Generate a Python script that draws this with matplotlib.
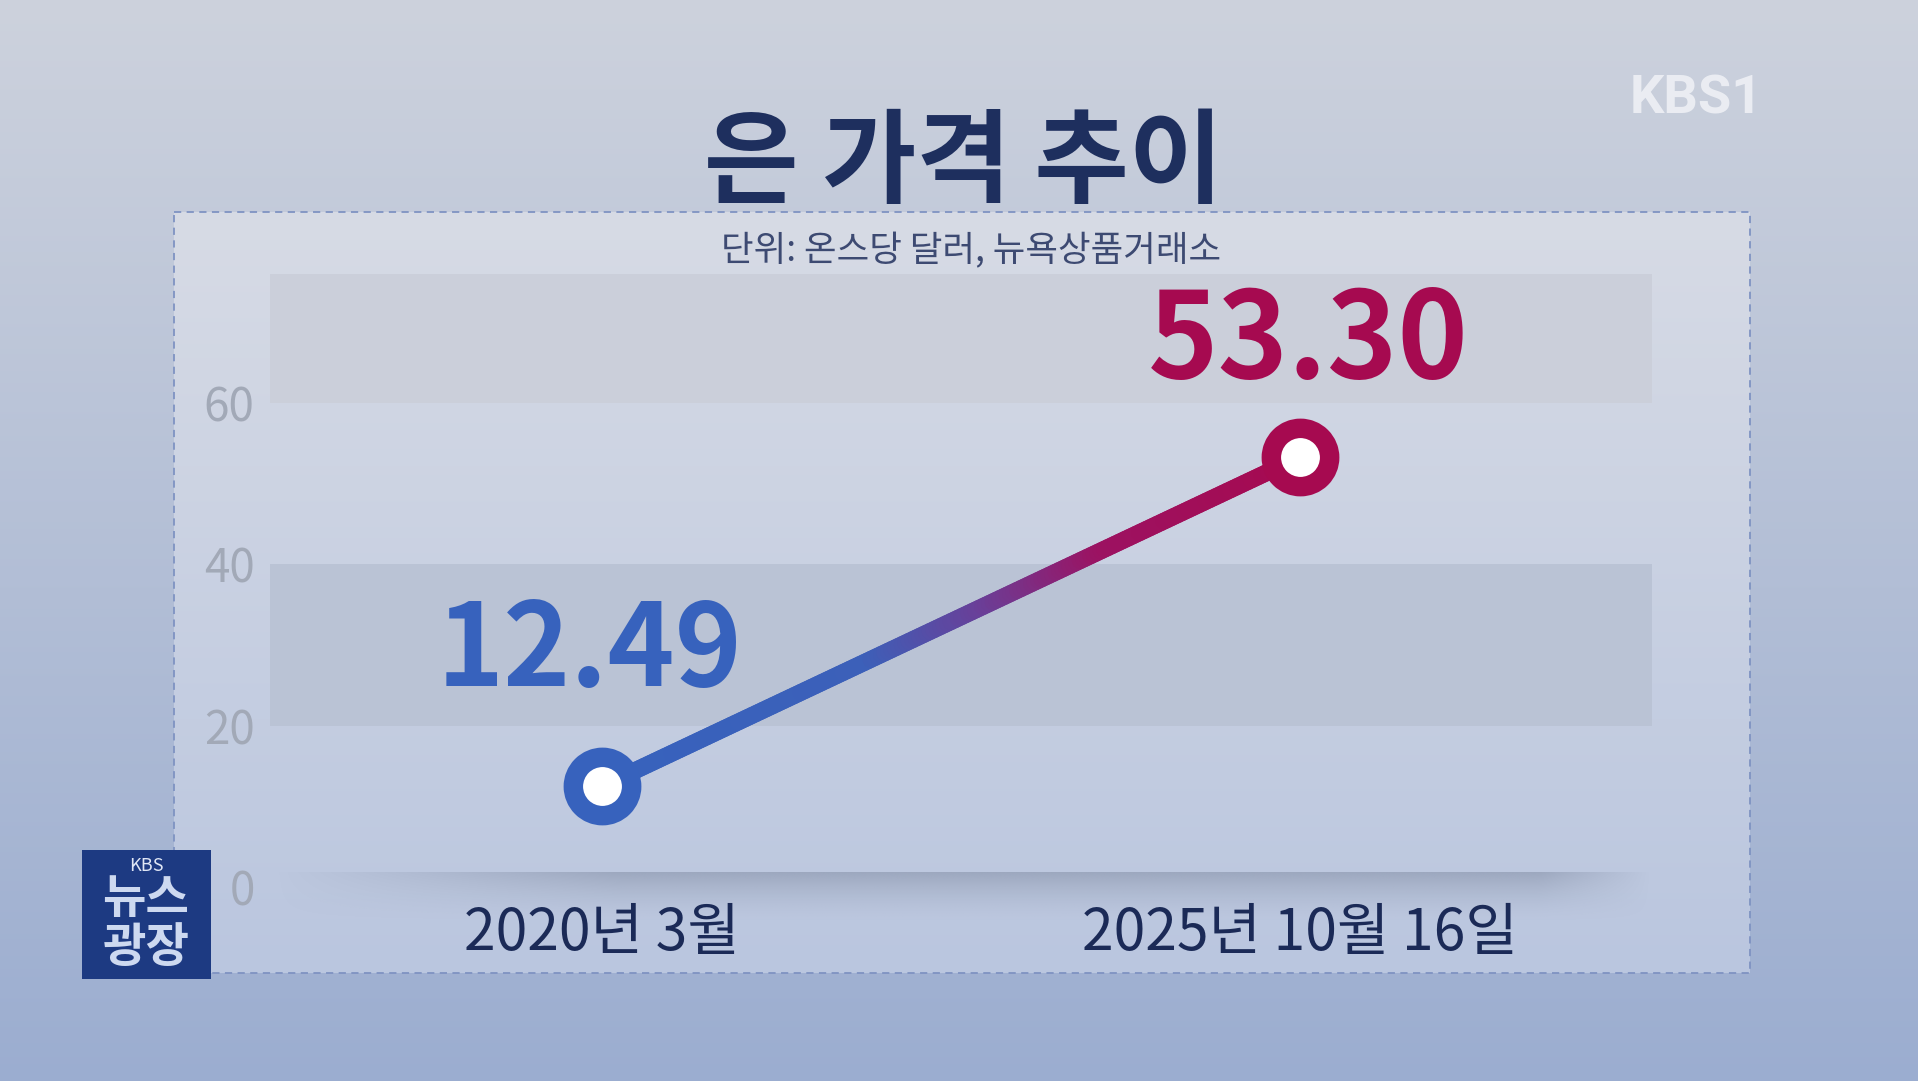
import numpy as np
import matplotlib
matplotlib.use("Agg")
import matplotlib.pyplot as plt
from matplotlib.collections import LineCollection
from matplotlib.colors import LinearSegmentedColormap, to_rgb
from matplotlib.patches import Rectangle
from matplotlib.path import Path

plt.rcParams['font.family'] = ['Noto Sans CJK KR', 'DejaVu Sans']

# data
dates = ['2020년 3월', '2025년 10월 16일']
prices = [12.49, 53.30]
price_labels = ['12.49', '53.30']
point_colors = ['#3762bd', '#a60a50']
yticks = [0, 20, 40, 60]
title = '은 가격 추이'
subtitle = '단위: 온스당 달러, 뉴욕상품거래소'

W, H = 1926, 1088
fig = plt.figure(figsize=(W / 100, H / 100), dpi=100)


def vgrad(ax, extent, top, bottom, **kw):
    t = np.linspace(0, 1, 256)[:, None, None]
    c0 = np.array(to_rgb(top))
    c1 = np.array(to_rgb(bottom))
    img = c0 + (c1 - c0) * t
    ax.imshow(img, extent=extent, aspect='auto', interpolation='bicubic', **kw)


# background layer in pixel coordinates
bg = fig.add_axes([0, 0, 1, 1], zorder=0)
vgrad(bg, (0, W, H, 0), '#cdd2dd', '#9badd0')
vgrad(bg, (174, 1750, 973, 212), '#d7dbe5', '#bac6df')
bg.add_patch(Rectangle((174, 212), 1576, 761, fill=False, ec='#7f93c2',
                       ls=(0, (4, 3)), lw=1.3))
# white edges of the screenshot
bg.add_patch(Rectangle((0, 1081), W, 7, fc='white', ec='none'))
bg.add_patch(Rectangle((1918, 0), 8, H, fc='white', ec='none'))

# KBS 1 logo
bg.text(1696, 99, 'KBS1', color='#eef0f5', fontsize=39, fontweight='bold',
        family=['Roboto', 'DejaVu Sans'], ha='center', va='center', alpha=0.9)

# 뉴스광장 badge
bg.add_patch(Rectangle((82, 850), 129, 129, fc='#1d3a82', ec='none'))
bg.text(146, 866, 'KBS', color='#dfe6f5', fontsize=13, ha='center', va='center')
bg.text(146, 899, '뉴스', color='#cdd9f0', fontsize=34, fontweight='bold',
        ha='center', va='center')
bg.text(146, 948, '광장', color='#cdd9f0', fontsize=34, fontweight='bold',
        ha='center', va='center')

bg.set_xlim(0, W)
bg.set_ylim(H, 0)
bg.axis('off')

fig.text(0.5005, 0.849, title, ha='center', va='center', fontsize=74,
         fontweight='black', color='#1e2f5e')
fig.text(0.504, 0.769, subtitle, ha='center', va='center', fontsize=25.5,
         color='#3d4a72')

# main chart
ax = fig.add_axes([270 / W, 1 - 903 / H, (1652 - 270) / W, (903 - 273.7) / H],
                  zorder=1)
ax.set_facecolor('none')
ax.axhspan(60, 76, color='#cbcfda', zorder=0, lw=0)
ax.axhspan(20, 40, color='#bac3d5', zorder=0, lw=0)

# floor shadow under the 0 line
v = np.linspace(1, 0, 64)[:, None] ** 1.6
u = np.linspace(0, 1, 256)[None, :]
env = np.clip(u / 0.25, 0, 1) * np.clip((1 - u) / 0.08, 0, 1)
shadow = np.zeros((64, 256, 4))
shadow[..., :3] = to_rgb('#7d889f')
shadow[..., 3] = 0.5 * v * env
ax.imshow(shadow, extent=(-0.47, 1.504, -4.5, 1.7), aspect='auto',
          interpolation='bicubic', clip_on=False, zorder=1)

x = np.arange(len(prices))
cmap = LinearSegmentedColormap.from_list(
    'line', [(0, '#3762bd'), (0.38, '#3c60b9'), (0.55, '#6a3f98'),
             (0.72, '#9c1262'), (1, '#a60a50')])
path = Path(np.column_stack([x, prices])).interpolated(200)
verts = path.vertices
segs = np.stack([verts[:-1], verts[1:]], axis=1)
lc = LineCollection(segs, colors=cmap(np.linspace(0, 1, len(segs))),
                    linewidths=12.2, capstyle='round', zorder=3)
ax.add_collection(lc)

for i in range(len(prices)):
    ax.plot(x[i], prices[i], 'o', ms=42, mew=14, mfc='white',
            mec=point_colors[i], zorder=4)

offsets = [(-9, 96), (6, 82)]
sizes = [82, 86]
for i in range(len(prices)):
    ax.annotate(price_labels[i], (x[i], prices[i]), xytext=offsets[i],
                textcoords='offset points', ha='center', va='center',
                fontsize=sizes[i], fontweight='bold', color=point_colors[i],
                zorder=5)

ax.set_xlim(-0.476, 1.504)
ax.set_ylim(-2, 76)
ax.set_yticks(yticks)
ax.set_xticks(x, dates)
ax.tick_params(axis='y', length=0, pad=11, labelsize=33, labelcolor='#a2a9b7')
ax.tick_params(axis='x', length=0, pad=1, labelsize=41, labelcolor='#1b2a57')
for lbl in ax.get_xticklabels():
    lbl.set_fontweight('medium')
for s in ax.spines.values():
    s.set_visible(False)

fig.savefig('out.png', dpi=100)
